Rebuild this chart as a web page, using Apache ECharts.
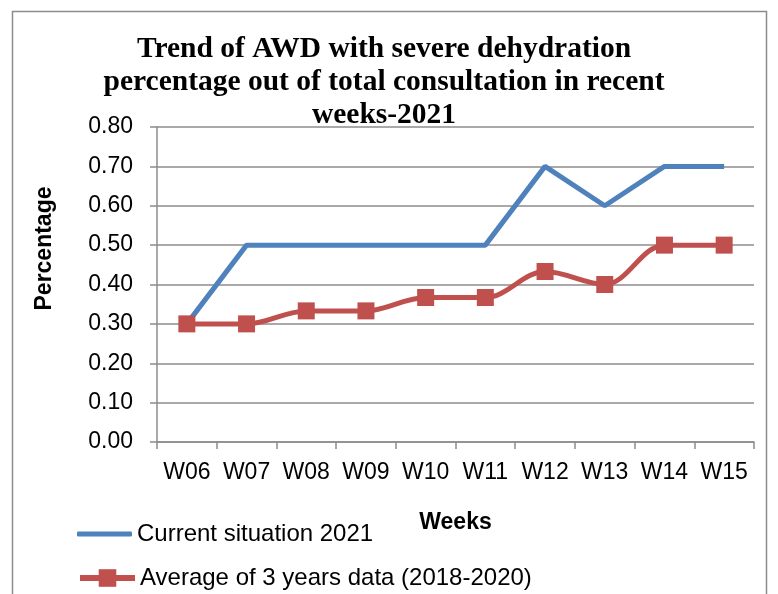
<!DOCTYPE html>
<html>
<head>
<meta charset="utf-8">
<script src="https://cdn.jsdelivr.net/npm/echarts@6/dist/echarts.min.js"></script>
<style>html,body{margin:0;padding:0;background:#fff}#c{width:778px;height:594px}</style>
</head>
<body>
<div id="c"></div>
<script>
var weeks = ['W06','W07','W08','W09','W10','W11','W12','W13','W14','W15'];
var current2021 = [0.30,0.50,0.50,0.50,0.50,0.50,0.70,0.60,0.70,0.70];
var avg3years = [0.30,0.30,0.333,0.333,0.367,0.367,0.433,0.40,0.50,0.50];
var yTicks = {min:0, max:0.8, interval:0.1};
var seriesNames = ['Current situation 2021','Average of 3 years data (2018-2020)'];

var chart = echarts.init(document.getElementById('c'));
var sans = 'Liberation Sans';
var legendText = {fontFamily:sans,fontSize:24,color:'#000'};
chart.setOption({
  animation:false,
  backgroundColor:'#fff',
  graphic:[{type:'rect',shape:{x:12.5,y:11.5,width:754,height:620},style:{fill:'none',stroke:'#8c8c8c',lineWidth:1.5},silent:true}],
  title:{
    text:'Trend of AWD with severe dehydration\npercentage out of total consultation in recent\nweeks-2021',
    left:379, top:28, textAlign:'center',
    textStyle:{fontFamily:'Liberation Serif',fontWeight:'bold',fontSize:29.5,lineHeight:33,color:'#000',align:'center'}
  },
  legend:[
    {left:77, top:522, padding:0, itemWidth:55, itemHeight:5, itemGap:0, icon:'roundRect',
     textStyle:legendText, data:[seriesNames[0]]},
    {left:77, top:566, padding:0, itemWidth:55, itemHeight:22, itemGap:0,
     lineStyle:{width:6}, textStyle:legendText, data:[seriesNames[1]]}
  ],
  grid:{left:157,right:24,top:127,bottom:152},
  xAxis:{
    type:'category', data:weeks, boundaryGap:true,
    name:'Weeks', nameLocation:'middle', nameGap:69,
    nameTextStyle:{fontFamily:sans,fontWeight:'bold',fontSize:23,color:'#000'},
    axisLine:{lineStyle:{color:'#8c8c8c',width:1.5}},
    axisTick:{show:true,interval:0,length:7,lineStyle:{color:'#8c8c8c',width:1.5}},
    axisLabel:{interval:0,fontFamily:sans,fontSize:23,color:'#000',margin:19}
  },
  yAxis:{
    type:'value', min:yTicks.min, max:yTicks.max, interval:yTicks.interval,
    name:'Percentage', nameLocation:'middle', nameGap:101, nameRotate:90,
    nameTextStyle:{fontFamily:sans,fontWeight:'bold',fontSize:23,color:'#000',padding:[0,0,0,72]},
    axisLine:{show:true,lineStyle:{color:'#8c8c8c',width:1.5}},
    axisTick:{show:true,length:7,lineStyle:{color:'#8c8c8c',width:1.5}},
    splitLine:{lineStyle:{color:'#8c8c8c',width:1.5}},
    axisLabel:{fontFamily:sans,fontSize:23,color:'#000',margin:24,formatter:function(v){return v.toFixed(2);}}
  },
  series:[
    {name:seriesNames[0],type:'line',data:current2021,symbol:'none',
     lineStyle:{color:'#4F81BD',width:5},itemStyle:{color:'#4F81BD'},z:2},
    {name:seriesNames[1],type:'line',data:avg3years,smooth:0.35,
     symbol:'rect',symbolSize:17,showAllSymbol:true,
     lineStyle:{color:'#C0504D',width:5},itemStyle:{color:'#C0504D'},z:3}
  ]
});
</script>
</body>
</html>
